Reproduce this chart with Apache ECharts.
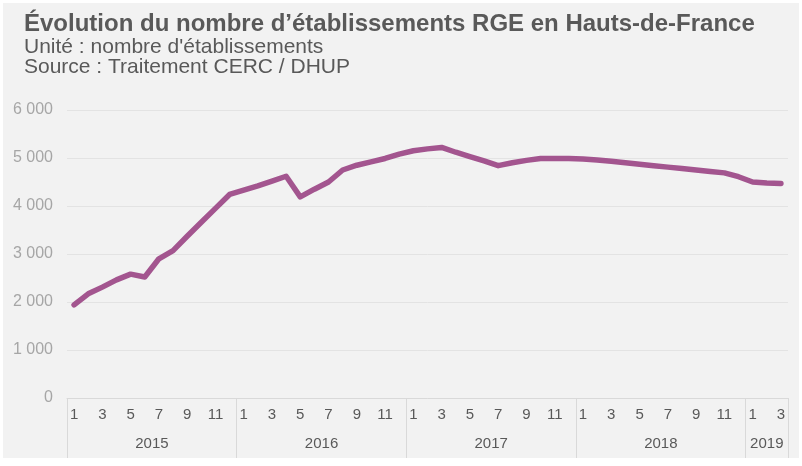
<!DOCTYPE html>
<html>
<head>
<meta charset="utf-8">
<script src="https://cdn.jsdelivr.net/npm/echarts@6/dist/echarts.min.js"></script>
<style>
  html, body { margin: 0; padding: 0; background: #ffffff; }
  #chart { position: absolute; left: 3px; top: 3px; width: 796px; height: 455px; background: #f2f2f2; }
</style>
</head>
<body>
<div id="chart"></div>
<script>
// years and how many months of data each one has
const years = ['2015', '2016', '2017', '2018', '2019'];
const monthsPerYear = [12, 12, 12, 12, 3];

// nombre d'établissements RGE, monthly from 2015-01 to 2019-03
const values = [
	1940, 2170, 2310, 2460, 2580, 2520, 2900, 3070, 3370, 3660, 3950, 4240,
	4330, 4420, 4520, 4620, 4190, 4350, 4500, 4750, 4850, 4920, 4990, 5080,
	5150, 5190, 5220, 5120, 5030, 4940, 4840, 4900, 4950, 4990, 4990, 4990,
	4980, 4960, 4930, 4900, 4870, 4840, 4810, 4780, 4750, 4720, 4690, 4610,
	4500, 4480, 4470
];

const yTicks = [0, 1000, 2000, 3000, 4000, 5000, 6000];

const monthLabels = [];
const yearOf = [];
for (let y = 0; y < years.length; y++) {
	for (let m = 1; m <= monthsPerYear[y]; m++) {
		monthLabels.push(String(m));
		yearOf.push(years[y]);
	}
}

// where each year starts, and the category that carries its label
const yearStart = {};
const yearLabelAt = {};
let pos = 0;
for (let y = 0; y < years.length; y++) {
	const n = monthsPerYear[y];
	yearStart[pos] = true;
	yearLabelAt[pos + Math.floor(n / 2)] = n % 2 === 0 ? 'even' : 'odd';
	pos += n;
}

const myChart = echarts.init(document.getElementById('chart'));
const font = "'Liberation Sans', Arial, sans-serif";

const option = {
	animation: false,
	title: [{
		text: 'Évolution du nombre d’établissements RGE en Hauts-de-France',
		left: 16,
		top: 4,
		textStyle: {
			color: '#595959',
			fontSize: 24,
			fontWeight: 'bold',
			fontFamily: font
		}
	}, {
		text: "Unité : nombre d'établissements\nSource : Traitement CERC / DHUP",
		left: 16,
		top: 29,
		textStyle: {
			color: '#595959',
			fontSize: 21,
			fontWeight: 'normal',
			lineHeight: 20,
			fontFamily: font
		}
	}],
	grid: {
		left: 64,
		right: 11,
		top: 107,
		bottom: 60
	},
	xAxis: [{
		type: 'category',
		data: monthLabels,
		boundaryGap: true,
		axisLine: { lineStyle: { color: '#d9d9d9', width: 1 } },
		axisTick: { show: false },
		axisLabel: {
			interval: 1,
			margin: 9,
			color: '#595959',
			fontSize: 15,
			fontFamily: font
		}
	}, {
		type: 'category',
		data: yearOf,
		position: 'bottom',
		boundaryGap: true,
		axisLine: { show: false },
		axisTick: {
			show: true,
			length: 60,
			interval: function(index) {
				return yearStart[index] === true;
			},
			lineStyle: { color: '#d9d9d9', width: 1 }
		},
		axisLabel: {
			margin: 38,
			interval: function(index) {
				return yearLabelAt[index] !== undefined;
			},
			formatter: function(value, index) {
				return yearLabelAt[index] === 'even' ? '{e|' + value + '}' : '{o|' + value + '}';
			},
			rich: {
				e: { color: '#595959', fontSize: 15, fontFamily: font, padding: [0, 14, 0, 0] },
				o: { color: '#595959', fontSize: 15, fontFamily: font }
			}
		}
	}],
	yAxis: {
		type: 'value',
		min: yTicks[0],
		max: yTicks[yTicks.length - 1],
		interval: 1000,
		axisLine: { show: false },
		axisTick: { show: false },
		splitLine: { lineStyle: { color: '#e3e3e3', width: 1 } },
		axisLabel: {
			margin: 14,
			color: '#a6a6a6',
			fontSize: 16,
			fontFamily: font,
			formatter: function(v) {
				return v >= 1000 ? Math.floor(v / 1000) + ' ' + String(v % 1000).padStart(3, '0') : String(v);
			}
		}
	},
	series: [{
		name: 'Établissements RGE',
		type: 'line',
		xAxisIndex: 0,
		data: values,
		symbol: 'none',
		lineStyle: {
			color: '#a3558f',
			width: 5.5,
			cap: 'round',
			join: 'round'
		}
	}]
};

myChart.setOption(option);
</script>
</body>
</html>
